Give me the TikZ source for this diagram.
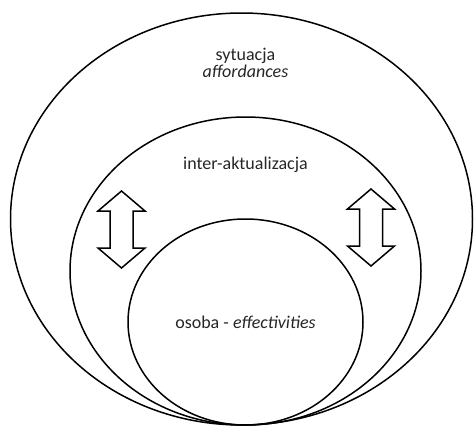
\documentclass[tikz,border=0pt]{standalone}
\usepackage{fontspec}
\setmainfont{Carlito}
\tikzset{
  ring/.style={draw=black, line width=1.5pt},
  label/.style={text=black!85, font=\fontsize{18}{18}\selectfont, inner sep=0pt, anchor=base},
  updown/.style={draw=black, line width=1.5pt, fill=white, line join=miter}
}
% hollow double arrow: centre x, top tip y
\newcommand{\hollowupdown}[2]{%
  \draw[updown] (#1,#2) -- ++(23.5,20) -- ++(-12,0) -- ++(0,37) -- ++(12,0)
    -- ++(-23.5,20) -- ++(-23.5,-20) -- ++(12,0) -- ++(0,-37) -- ++(-12,0) -- cycle;}
\begin{document}
\begin{tikzpicture}[x=1pt, y=-1pt]
  \useasboundingbox (0,0) rectangle (474,426);

  % The three nested rings, all touching at the bottom
  \draw[ring] (241.5,219) ellipse [x radius=231, y radius=206];
  \draw[ring] (245.5,271) ellipse [x radius=175.5, y radius=154];
  \draw[ring] (245.5,322) ellipse [x radius=117.5, y radius=103];

  % Arrows between the middle and inner ring
  \hollowupdown{121.5}{191}
  \hollowupdown{371}{189}

  % Texts
  \node[label] (sit) at (245.5,60) {sytuacja};
  \node[label] (aff) at (245.5,77.5) {\textit{affordances}};
  \node[label] (inter) at (245.5,169) {inter-aktualizacja};
  \node[label] (osoba) at (245.5,328) {osoba - \textit{effectivities}};
\end{tikzpicture}
\end{document}
